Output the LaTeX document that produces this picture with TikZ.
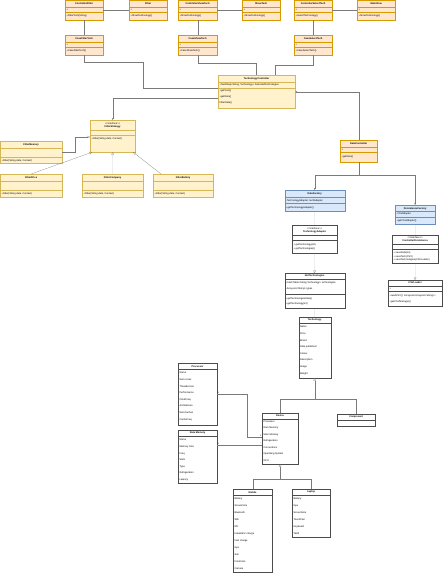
\documentclass[tikz,border=0pt]{standalone}
\usepackage{fontspec}
\setmainfont{Liberation Sans}
\usepackage{xcolor}
\usepackage{tikz}
\usetikzlibrary{arrows.meta,calc,positioning}

\definecolor{peach}{HTML}{FFE6CC}
\definecolor{peachline}{HTML}{D79B00}
\definecolor{cream}{HTML}{FFF2CC}
\definecolor{creamline}{HTML}{D6B656}
\definecolor{skyblue}{HTML}{DAE8FC}
\definecolor{skyline}{HTML}{6C8EBF}
\definecolor{wire}{HTML}{7A7A7A}

% class box: [title centre]{name}{look}{x}{y}{width}{height}{title}
\newcommand{\umlclass}[8][3.5]{%
  \node[cls, #3, minimum width=#6mm, minimum height=#7mm, anchor=north west] (#2) at (#4,#5) {};
  \node[hdr] (#2-title) at ($(#2.north)+(0,#1)$) {#8};}
% compartment line across a class box
\newcommand{\umlrule}[3]{\draw[cut, draw=#3] ($(#1.north west)+(0,#2)$) -- ($(#1.north east)+(0,#2)$);}
% text rows: {name}{first baseline}{step}{rows}
\newcommand{\umlrows}[4]{%
  \foreach \row [count=\i from 0] in {#4}
    \node[txt] (#1-row\i) at ($(#1.north west)+(1.5,{#2+\i*#3})$) {\row};}

\begin{document}
\begin{tikzpicture}[x=1mm, y=-1mm,
    cls/.style={rectangle, line width=0.6pt, inner sep=0pt},
    peachbox/.style={fill=peach, draw=peachline},
    creambox/.style={fill=cream, draw=creamline},
    bluebox/.style={fill=skyblue, draw=skyline},
    plainbox/.style={fill=white, draw=black!70},
    hdr/.style={font=\fontsize{7}{9}\selectfont\bfseries, align=center, inner sep=0pt, anchor=center},
    txt/.style={font=\fontsize{7}{8}\selectfont, inner sep=0pt, anchor=base west},
    cut/.style={line width=0.6pt},
    link/.style={draw=wire, line width=0.6pt},
    arr/.style={link, -{Stealth[length=2mm, width=1.7mm]}},
    real/.style={link, -{Triangle[open, length=2.4mm, width=2.6mm]}},
    mult/.style={font=\fontsize{6}{7}\selectfont, inner sep=1pt},
  ]

  \fill[white] (0,0) rectangle (445,573);
  \useasboundingbox (0,0) rectangle (445,573);

  % Controllers and views
  \umlclass{cfilter}{peachbox}{65}{0}{38}{20}{ControllerFilter}
  \umlrule{cfilter}{7}{peachline}
  \umlrule{cfilter}{12.5}{peachline}
  \umlrows{cfilter}{10.6}{6.4}{+, +FilterTech(String)}

  \umlclass{filterview}{peachbox}{129}{0}{38}{20}{Filter}
  \umlrule{filterview}{7}{peachline}
  \umlrule{filterview}{12.5}{peachline}
  \umlrows{filterview}{10.6}{6.4}{+, +ShowTechnology()}

  \umlclass{cshow}{peachbox}{178}{0}{39}{20}{ControllerShowTech}
  \umlrule{cshow}{7}{peachline}
  \umlrule{cshow}{12.5}{peachline}
  \umlrows{cshow}{10.6}{6.4}{+, +ShowTechnology()}

  \umlclass{showtech}{peachbox}{242}{0}{38}{20}{ShowTech}
  \umlrule{showtech}{7}{peachline}
  \umlrule{showtech}{12.5}{peachline}
  \umlrows{showtech}{10.6}{6.4}{+, +ShowTechnology()}

  \umlclass{cselect}{peachbox}{294}{0}{38}{20}{ControllerSelectTech}
  \umlrule{cselect}{7}{peachline}
  \umlrule{cselect}{12.5}{peachline}
  \umlrows{cselect}{10.6}{6.4}{+, +SelectTechnology()}

  \umlclass{mainview}{peachbox}{357}{0}{38}{20}{MainView}
  \umlrule{mainview}{7}{peachline}
  \umlrule{mainview}{12.5}{peachline}
  \umlrows{mainview}{10.6}{6.4}{+, +ShowTechnology()}

  % Use cases
  \umlclass{casefilter}{peachbox}{65}{35}{38}{20}{CaseFilterTech}
  \umlrule{casefilter}{7}{peachline}
  \umlrule{casefilter}{12.5}{peachline}
  \umlrows{casefilter}{10.6}{6.4}{+, +CaseFilterTech()}

  \umlclass{caseshow}{peachbox}{178}{35}{39}{20}{CaseShowTech}
  \umlrule{caseshow}{7}{peachline}
  \umlrule{caseshow}{12.5}{peachline}
  \umlrows{caseshow}{10.6}{6.4}{+, +CaseShowTech()}

  \umlclass{caseselect}{peachbox}{294}{35}{38}{20}{CaseSelectTech}
  \umlrule{caseselect}{7}{peachline}
  \umlrule{caseselect}{12.5}{peachline}
  \umlrows{caseselect}{10.6}{6.4}{+, +CaseSelectTech()}

  % Technology controller
  \umlclass{techctrl}{creambox}{218}{75}{77}{33}{TechnologyController}
  \umlrule{techctrl}{7}{creamline}
  \umlrule{techctrl}{13}{creamline}
  \umlrows{techctrl}{10.8}{6}{{+hashMap<String, Technology> SelectedTechnologies}, +getTech(), +getData(), FilterData()}

  % Filter strategy and filters
  \umlclass[5]{fstrat}{creambox}{90}{120}{45}{32}{{\mdseries <{}<interface>{}>}\\FilterStrategy}
  \umlrule{fstrat}{10}{creamline}
  \umlrule{fstrat}{15}{creamline}
  \umlrows{fstrat}{19.8}{6}{{+Filter(String data, Context)}}

  \umlclass{fmem}{creambox}{0}{141}{62}{22}{FilterMemory}
  \umlrule{fmem}{7}{creamline}
  \umlrule{fmem}{16}{creamline}
  \umlrows{fmem}{20.3}{6}{{+Filter(String data, Context)}}

  \umlclass{fprice}{creambox}{0}{174}{62}{23}{FilterPrice}
  \umlrule{fprice}{7}{creamline}
  \umlrule{fprice}{16}{creamline}
  \umlrows{fprice}{20.5}{6}{{+Filter(String data, Context)}}

  \umlclass{fcomp}{creambox}{82}{174}{61}{23}{FilterCompany}
  \umlrule{fcomp}{7}{creamline}
  \umlrule{fcomp}{16}{creamline}
  \umlrows{fcomp}{20.5}{6}{{+Filter(String data, Context)}}

  \umlclass{fbatt}{creambox}{153}{174}{60}{23}{FilterBattery}
  \umlrule{fbatt}{7}{creamline}
  \umlrule{fbatt}{16}{creamline}
  \umlrows{fbatt}{20.5}{6}{{+Filter(String data, Context)}}

  % Data access
  \umlclass{datactrl}{peachbox}{340}{140}{37}{22}{DataController}
  \umlrule{datactrl}{7}{peachline}
  \umlrule{datactrl}{12.5}{peachline}
  \umlrows{datactrl}{10.6}{6.6}{+, +getData()}

  \umlclass{datafac}{bluebox}{284.5}{190}{60}{21}{DataFactory}
  \umlrule{datafac}{7}{skyline}
  \umlrule{datafac}{13.5}{skyline}
  \umlrows{datafac}{11}{7}{{-TechnologyAdapter: techAdapter}, +getTechnologyAdapter()}

  \umlclass[5]{techad}{plainbox}{292}{225}{45}{28}{{\mdseries <{}<interface>{}>}\\TechnologyAdapter}
  \umlrule{techad}{10}{black!70}
  \umlrule{techad}{15.5}{black!70}
  \umlrows{techad}{20.3}{4.3}{+ getTechnology(int), + getTechnologies()}

  \umlclass[3]{nettech}{plainbox}{284.5}{273}{60}{35}{NetTechnologies}
  \umlrule{nettech}{6}{black!70}
  \umlrule{nettech}{21.5}{black!70}
  \umlrows{nettech}{10.3}{6}{{+hashTable<String,Technology> technologies}, -ArrayList<String> types}
  \umlrows{nettech}{26.3}{5.5}{+getTechnologiesData(), +getTechnology(int)}

  \umlclass{persfac}{bluebox}{395}{205}{40}{19}{PersistenceFactory}
  \umlrule{persfac}{6}{skyline}
  \umlrule{persfac}{12}{skyline}
  \umlrows{persfac}{9.8}{6.5}{-CSVAdapter, +getCSVAdapter()}

  \umlclass[4.5]{ctrlpers}{plainbox}{392}{235}{46}{28}{{\mdseries <{}<interface>{}>}\\ControllerPersistence}
  \umlrule{ctrlpers}{9}{black!70}
  \umlrule{ctrlpers}{14.5}{black!70}
  \umlrows{ctrlpers}{18.6}{3.5}{+ saveData(int), + saveTech(CSV), + saveTechnologies(CSVLoader)}

  \umlclass[3]{csvload}{plainbox}{388}{280}{54}{26}{CSVLoader}
  \umlrule{csvload}{6}{black!70}
  \umlrule{csvload}{11.5}{black!70}
  \umlrows{csvload}{9.6}{6}{+}
  \umlrows{csvload}{16.8}{5.5}{{+readCSV(): ArrayList<ArrayList<String>{}>}, +getCSVManager()}

  % Domain model
  \umlclass[3]{tech}{plainbox}{298.5}{317}{32}{61}{Technology}
  \umlrule{tech}{6}{black!70}
  \umlrows{tech}{10.8}{6.6}{Name, Price, Brand, Date published, Colour, Description, Image, Weight}

  \umlclass[3]{device}{plainbox}{262}{413}{36}{51}{Device}
  \umlrule{device}{6}{black!70}
  \umlrows{device}{9.3}{6.5}{Processor, Ram Memory, Main Memory, Refrigeration, Connections, Operating System, GPU}

  \umlclass[3]{comp}{plainbox}{337}{414}{38}{12}{Component}
  \umlrule{comp}{6}{black!70}

  \umlclass[3.2]{proc}{plainbox}{178}{363}{39}{62}{Processor}
  \umlrule{proc}{6.5}{black!70}
  \umlrows{proc}{10.8}{6.6}{Name, Num cores, Threads/core, Performance, ClockFreq, Architecture, NumCaches, CacheFreq}

  \umlclass[3.2]{ram}{plainbox}{178}{430}{39}{53}{Ram Memory}
  \umlrule{ram}{6.5}{black!70}
  \umlrows{ram}{10.8}{6.6}{Name, Memory Size, Freq, Slots, Type, Refrigeration, Latency}

  \umlclass[3.2]{mobile}{plainbox}{233}{489}{39}{83}{Mobile}
  \umlrule{mobile}{6.5}{black!70}
  \umlrows{mobile}{10.3}{7}{Battery, ScreenSize, Bluetooth, Wifi, Nfc, Inalambric charge, Fast charge, Gps, Sim, FrontCam, Camera}

  \umlclass[3.2]{laptop}{plainbox}{292}{489}{38}{48}{Laptop}
  \umlrule{laptop}{6.5}{black!70}
  \umlrows{laptop}{10.3}{7}{Battery, Gpu, ScreenSize, TouchPad, Keyboard, Tactil}

  % Connectors
  \draw[link] (cfilter) -- (filterview);
  \draw[link] (cshow) -- (showtech);
  \draw[link] (cselect) -- (mainview);
  \draw[link] (cfilter) -- (casefilter);
  \draw[link] (cshow) -- (caseshow);
  \draw[link] (cselect) -- (caseselect);

  \draw[link] (casefilter.south) |- (143,62) |- ($(techctrl.north west)+(0,13)$);
  \draw[link] (caseshow.south) -- ++(0,8) -| ($(techctrl.north west)+(38,0)$);
  \draw[link] (caseselect.south) -- ++(0,10) -| ($(techctrl.north west)+(57,0)$);
  \draw[arr] ($(techctrl.north west)+(0,23)$) -| (fstrat.north);
  \draw[arr] (datactrl.north) |- ($(techctrl.north east)+(0,17)$);

  \draw[real] (fmem.east) -- ++(13,0) |- ($(fstrat.north west)+(0,17)$);
  \draw[real] (fprice.north) -- ($(fstrat.south west)+(2,0)$);
  \draw[real] (fcomp.north) -- (fstrat.south);
  \draw[real] ($(fbatt.north west)+(8,0)$) -- ($(fstrat.south east)+(-2,0)$);

  \coordinate (dsplit) at ($(datactrl.south)+(0,13)$);
  \draw[link] (datactrl.south) -- (dsplit);
  \draw[arr] (dsplit) -| (datafac.north);
  \draw[arr] (dsplit) -| (persfac.north);

  \draw[link] (datafac) -- (techad);
  \draw[real] (techad) -- (nettech);
  \draw[link] (nettech) -- (tech);
  \draw[link] (persfac) -- (ctrlpers);
  \draw[real] (ctrlpers) -- (csvload);

  \coordinate (techjoin) at ($(tech.south)+(0,21)$);
  \draw[real] (techjoin) -- (tech.south);
  \draw[link] (device.north) |- (techjoin);
  \draw[link] (comp.north) |- (techjoin);

  \draw[link] (proc.east) node[mult, above right] (proc-m) {1} -- ++(30,0)
    |- ($(device.north west)+(0,24)$) node[mult, above left] (device-m1) {1};
  \draw[link] ($(ram.north east)+(0,15)$) node[mult, above right] (ram-m) {1}
    -- ($(device.north west)+(0,32)$) node[mult, above left] (device-m2) {*};

  \coordinate (devjoin) at ($(device.south)+(0,15)$);
  \draw[real] (devjoin) -- (device.south);
  \draw[link] (mobile.north) |- (devjoin);
  \draw[link] (laptop.north) |- (devjoin);

\end{tikzpicture}
\end{document}
